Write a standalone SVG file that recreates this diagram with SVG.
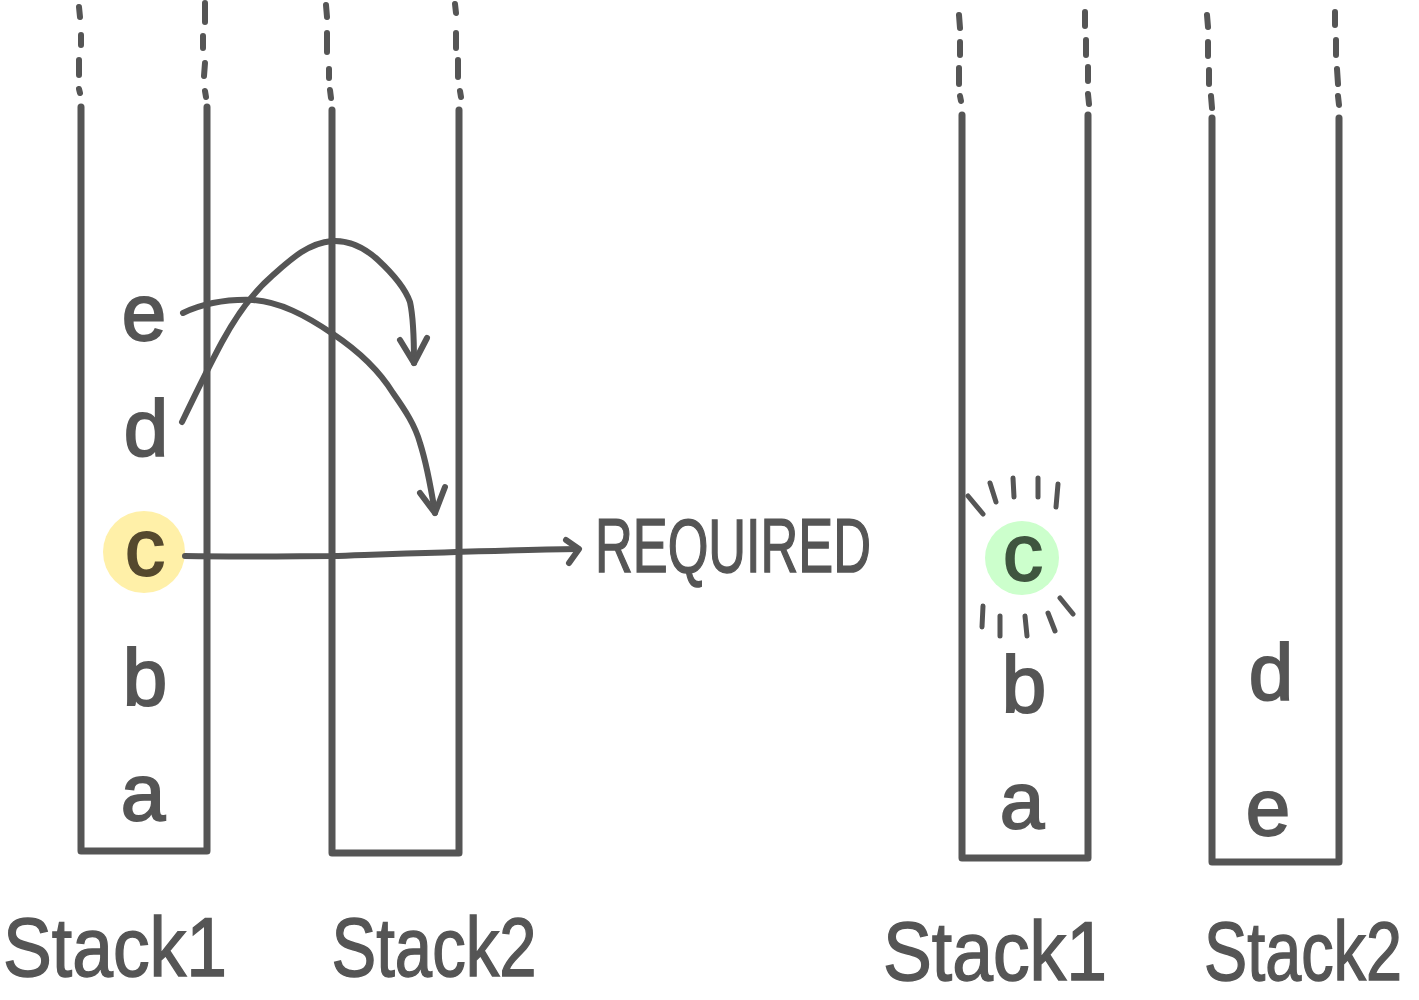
<svg xmlns="http://www.w3.org/2000/svg" width="1419" height="1000" viewBox="0 0 1419 1000">
<style>
.wall{fill:none;stroke:#555555;stroke-width:7;stroke-linecap:round;stroke-linejoin:round}
.dash{fill:none;stroke:#555555;stroke-width:6;stroke-linecap:round}
.conn{fill:none;stroke:#555555;stroke-width:6;stroke-linecap:round;stroke-linejoin:round}
.ray{fill:none;stroke:#555555;stroke-width:5;stroke-linecap:round}
.lt{font-family:"Liberation Sans Narrow","Liberation Sans","DejaVu Sans Condensed",sans-serif;fill:#555555;text-anchor:middle}
.item{font-size:80px;stroke:#555555;stroke-width:2}
.lbl{font-size:84px;stroke:#555555;stroke-width:1.5}
</style>
<rect width="1419" height="1000" fill="#ffffff"/>
<g id="left-stack1">
<path class="dash" d="M79 7 L80 17 M81 35 L81 45 M79 60 L79 75 M79 89 L80 93 M205 3 L205 22 M203 36 L203 48 M205 63 L204 76 M205 91 L206 97"/>
<path class="wall" d="M81 107 L81 851 L207 851 L207 107"/>
</g>
<g id="left-stack2">
<path class="dash" d="M326 5 L327 17 M327 33 L327 52 M329 69 L329 78 M330 90 L331 98 M455 4 L456 13 M456 33 L456 48 M458 60 L458 77 M460 91 L461 97"/>
<path class="wall" d="M332 110 L332 853 L459 853 L459 110"/>
</g>
<g id="right-stack1">
<path class="dash" d="M959 15 L960 28 M960 42 L960 55 M959 68 L959 84 M960 96 L961 101 M1085 12 L1085 26 M1086 40 L1086 55 M1088 67 L1088 81 M1088 94 L1089 104"/>
<path class="wall" d="M962 115 L962 858 L1088 858 L1088 115"/>
</g>
<g id="right-stack2">
<path class="dash" d="M1207 15 L1208 27 M1208 42 L1208 56 M1209 70 L1209 84 M1211 96 L1212 108 M1335 12 L1335 25 M1336 40 L1336 55 M1337 69 L1338 84 M1338 96 L1339 105"/>
<path class="wall" d="M1212 118 L1212 862 L1339 862 L1339 118"/>
</g>
<g id="left-items">
<text class="lt item" x="144" y="340">e</text>
<text class="lt item" x="146" y="456">d</text>
<circle cx="144" cy="552" r="41" fill="#fff0a8"/>
<text class="lt item" x="145" y="575" style="fill:#55492e;stroke:#55492e">c</text>
<text class="lt item" x="145" y="705">b</text>
<text class="lt item" x="143" y="820">a</text>
</g>
<g id="required">
<text class="lt" x="733" y="572" font-size="76" stroke="#555555" stroke-width="1.5" textLength="276" lengthAdjust="spacingAndGlyphs">REQUIRED</text>
</g>
<g id="right-items">
<circle cx="1022" cy="558" r="37" fill="#ccffcc"/>
<text class="lt item" x="1023" y="580" style="fill:#3f553f;stroke:#3f553f">c</text>
<path class="ray" d="M968 496 L983 514 M990 483 L996 502 M1013 478 L1014 497 M1038 478 L1038 497 M1058 484 L1056 507 M983 606 L982 627 M1000 616 L1000 636 M1025 616 L1027 636 M1048 613 L1055 631 M1060 598 L1073 614"/>
<text class="lt item" x="1024" y="712">b</text>
<text class="lt item" x="1022" y="828">a</text>
<text class="lt item" x="1271" y="700">d</text>
<text class="lt item" x="1268" y="835">e</text>
</g>
<g id="labels">
<text class="lt lbl" x="115" y="976" textLength="224" lengthAdjust="spacingAndGlyphs">Stack1</text>
<text class="lt lbl" x="434" y="976" textLength="205" lengthAdjust="spacingAndGlyphs">Stack2</text>
<text class="lt lbl" x="995" y="980" textLength="224" lengthAdjust="spacingAndGlyphs">Stack1</text>
<text class="lt lbl" x="1303" y="980" font-size="80" textLength="198" lengthAdjust="spacingAndGlyphs">Stack2</text>
</g>
<g id="connectors">
<path class="conn" d="M182 422 C195 395 208 368 222 342 C235 318 250 295 272 276 C290 260 308 243 332 241 C350 240 365 248 378 260 C392 273 405 288 410 302 C414 320 414 342 414 363"/>
<path class="conn" d="M400 340 L414 363 L427 338"/>
<path class="conn" d="M183 313 C200 305 225 299 253 300 C280 302 305 315 333 334 C360 352 380 372 393 393 C405 410 415 425 420 443 C427 465 431 488 435 513"/>
<path class="conn" d="M420 493 L435 513 L445 487"/>
<path class="conn" d="M185 556 C250 557 300 556 332 556 C420 553 500 550 578 549"/>
<path class="conn" d="M566 540 L579 549 L569 563"/>
</g>
</svg>
